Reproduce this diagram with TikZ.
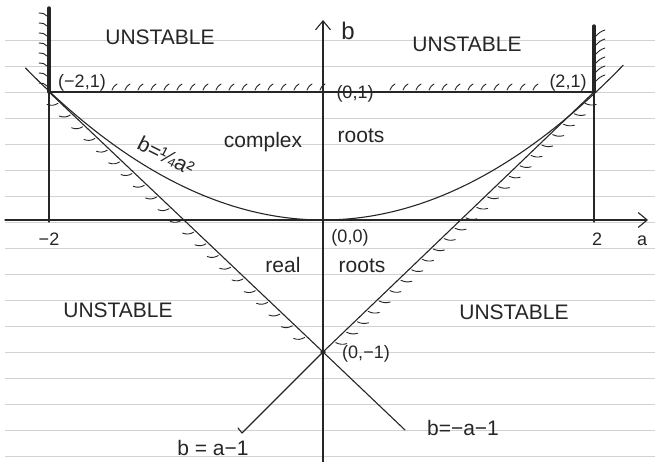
\documentclass[tikz,border=0pt]{standalone}
\usepackage{fontspec}
\setmainfont{Liberation Sans}
\usetikzlibrary{arrows.meta,calc}
\definecolor{inkc}{HTML}{262626}
\definecolor{rulec}{HTML}{D2D2D2}
\tikzset{
  ink/.style={draw=inkc, line width=1.1pt, line cap=round, line join=round},
  heavybar/.style={draw=inkc, line width=3.4pt, line cap=round},
  hatch/.style={draw=inkc, line width=0.9pt, line cap=round},
  ruled/.style={draw=rulec, line width=0.8pt},
  lbl/.style={text=inkc, inner sep=0pt, anchor=base, font=\fontsize{21}{21}\selectfont},
  coordlbl/.style={text=inkc, inner sep=0pt, anchor=base, font=\fontsize{18}{18}\selectfont},
  barb/.style={-{Straight Barb[length=9pt,width=15pt,line width=1.1pt]}},
}
\begin{document}
\begin{tikzpicture}[x=1pt,y=-1pt]
\fill[white] (0,0) rectangle (655,462);
\useasboundingbox (0,0) rectangle (655,462);
% ruled paper
\foreach \k in {0,...,16} \draw[ruled] (5,{40+26*\k}) -- (655,{40+26*\k});
% key points
\coordinate (O) at (323,220);
\coordinate (L1) at (49,92);
\coordinate (R1) at (594,92);
\coordinate (B1) at (323,352);
\coordinate (Ltop) at (49,8);
\coordinate (Rtop) at (594,26);
\coordinate (Lfoot) at (49,222);
\coordinate (Rfoot) at (594,222);
\coordinate (Xs) at (5,220);
\coordinate (Xe) at (648,220);
\coordinate (Ys) at (323,462);
\coordinate (Ye) at (323,20);
\coordinate (LLend) at (242,433);
\coordinate (RLend) at (405,430);
% axes
\draw[ink,barb] (Xs) -- (Xe);
\draw[ink,barb] (Ys) -- (Ye);
% a = -2, a = 2
\draw[ink] (L1) -- (Lfoot);
\draw[ink] (R1) -- (Rfoot);
\draw[heavybar] (Ltop) -- (L1);
\draw[heavybar] (Rtop) -- (R1);
% b = 1
\draw[ink] (L1) -- (R1);
% b = -a-1 and b = a-1
\draw[ink] (L1) -- (B1) -- (RLend);
\draw[ink] (R1) -- (B1) -- (LLend);
\draw[ink] (LLend) -- ++(-4,-5);
% parabola b = a^2/4
\draw[ink] plot[domain=-2.18:2.2, samples=80, smooth] ({323+136.5*\x},{220-32*\x*\x});
\fill[inkc] (B1) circle (2.6);
\fill[inkc] (O) circle (1.6);
% hatching
\foreach \x in {112,125,...,320} \draw[hatch] (\x,90) to[bend left=20] (\x+5,84);
\foreach \x in {390,403,...,545} \draw[hatch] (\x,90) to[bend left=20] (\x+5,84);
\foreach \t in {0.04,0.085,...,0.97} \draw[hatch] ($(L1)!\t!(B1)+(-2,1)$) to[bend left=25] ++(-11,1);
\foreach \t in {0.04,0.08,...,0.97} \draw[hatch] ($(R1)!\t!(B1)+(2,1)$) to[bend right=20] ++(11,1);
\foreach \y in {16,26,...,86} \draw[hatch] (47,\y) to[bend right=25] (39,\y-3);
\foreach \y in {36,45,...,84} \draw[hatch] (596,\y) to[bend left=15] (605,\y-6);
% labels
\node[lbl] (u1) at (160,45) {UNSTABLE};
\node[lbl] (u2) at (467,52) {UNSTABLE};
\node[lbl] (u3) at (118,317) {UNSTABLE};
\node[lbl] (u4) at (514,319) {UNSTABLE};
\node[lbl] (cx) at (263,148) {complex};
\node[lbl] (ro1) at (361,143) {roots};
\node[lbl] (re) at (283,272) {real};
\node[lbl] (ro2) at (362,272) {roots};
\node[lbl, font=\fontsize{24}{24}\selectfont] (bl) at (348,40) {b};
\node[coordlbl] (pm21) at (82,88) {(−2,1)};
\node[coordlbl] (p01) at (355,99) {(0,1)};
\node[coordlbl] (p21) at (568,88) {(2,1)};
\node[coordlbl] (p00) at (350,242) {(0,0)};
\node[coordlbl] (p0m1) at (366,358) {(0,−1)};
\node[coordlbl] (tm2) at (49,245) {−2};
\node[coordlbl] (t2) at (597,245) {2};
\node[coordlbl] (al) at (642,245) {a};
\node[lbl, anchor=center, rotate=-27] (curvelbl) at (166,156) {b=¼a²};
\node[lbl] (lbm) at (213,455) {b = a−1};
\node[lbl] (lbp) at (463,435) {b=−a−1};
\end{tikzpicture}
\end{document}
